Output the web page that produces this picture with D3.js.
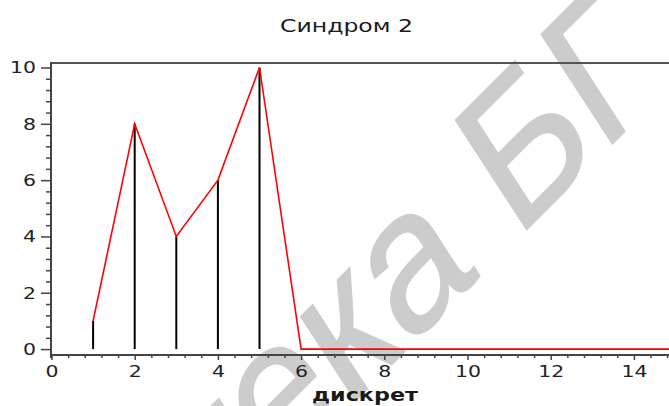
<!DOCTYPE html>
<html>
<head>
<meta charset="utf-8">
<script src="https://cdn.jsdelivr.net/npm/d3@7"></script>
<style>
  html, body { margin: 0; padding: 0; background: #fff; }
  svg { display: block; }
</style>
</head>
<body>
<svg id="chart" width="669" height="406"></svg>
<script>
// Discrete samples of the syndrome signal
const discrete = [1, 2, 3, 4, 5, 6, 7, 8, 9, 10, 11, 12, 13, 14, 15];
const values   = [1, 8, 4, 6, 10, 0, 0, 0, 0, 0, 0, 0, 0, 0, 0];
const xTicks = [0, 2, 4, 6, 8, 10, 12, 14];
const yTicks = [0, 2, 4, 6, 8, 10];
const titleText = "Синдром 2";
const xLabelText = "дискрет";
const watermarkText = "Библиотека БГУИР";

const svg = d3.select("#chart");
const W = 669, H = 406;

const x = d3.scaleLinear().domain([0, 15]).range([51.5, 51.5 + 15 * 41.6]);
const y = d3.scaleLinear().domain([-0.21, 10.16]).range([355, 63]);

// Slanted watermark behind the plot, anchored at the start of "БГУИР"
const wmFont = "Liberation Sans, Arial, sans-serif";
const wmSize = 185;
const wm = svg.append("g").attr("transform", "translate(516,240) rotate(-45) skewX(-12)");
const prefix = wm.append("text")
  .attr("font-family", wmFont)
  .attr("font-size", wmSize)
  .attr("visibility", "hidden")
  .style("white-space", "pre")
  .text("Библиотека ");
const offset = prefix.node().getComputedTextLength();
prefix.remove();
wm.append("text")
  .attr("x", -offset)
  .attr("font-family", wmFont)
  .attr("font-size", wmSize)
  .attr("fill", "#cccccc")
  .attr("stroke", "#cccccc")
  .attr("stroke-width", 2)
  .style("white-space", "pre")
  .text(watermarkText);

// Title
svg.append("text")
  .attr("x", 346.5).attr("y", 32)
  .attr("text-anchor", "middle")
  .attr("font-family", "DejaVu Sans, sans-serif")
  .attr("font-size", 18)
  .attr("fill", "#1a1a1a")
  .attr("textLength", 133)
  .attr("lengthAdjust", "spacingAndGlyphs")
  .text(titleText);

// Frame lines
const axisColor = "#444";
svg.append("line").attr("x1", 51).attr("x2", W).attr("y1", 63).attr("y2", 63)
  .attr("stroke", "#555").attr("stroke-width", 2);

// Minor ticks
const minorX = d3.range(0, 75).map(i => +(i * 0.4).toFixed(1)).filter(v => v <= 15 && Math.abs(v / 2 - Math.round(v / 2)) > 1e-6);
const minorY = d3.range(0, 26).map(i => +(i * 0.4).toFixed(1)).filter(v => v <= 10 && Math.abs(v / 2 - Math.round(v / 2)) > 1e-6);

const gyMinor = svg.append("g").attr("transform", "translate(51,0)")
  .call(d3.axisLeft(y).tickValues(minorY).tickSize(5).tickFormat(""));
const gxMinor = svg.append("g").attr("transform", "translate(0,355)")
  .call(d3.axisBottom(x).tickValues(minorX).tickSize(3).tickFormat(""));

const gy = svg.append("g").attr("transform", "translate(51,0)")
  .call(d3.axisLeft(y).tickValues(yTicks).tickSize(10).tickPadding(5).tickFormat(d3.format("d")));
const gx = svg.append("g").attr("transform", "translate(0,355)")
  .call(d3.axisBottom(x).tickValues(xTicks).tickSize(5).tickPadding(5).tickFormat(d3.format("d")));

[gyMinor, gxMinor, gy, gx].forEach(g => {
  g.select(".domain").remove();
  g.selectAll(".tick line").attr("stroke", axisColor).attr("stroke-width", 1.5);
});
gy.selectAll(".tick text")
  .attr("font-family", "DejaVu Sans, sans-serif").attr("font-size", 16.5)
  .attr("fill", "#222")
  .attr("x", -15 / 1.24)
  .attr("transform", "scale(1.24,1)");
gx.selectAll(".tick text")
  .attr("font-family", "DejaVu Sans, sans-serif").attr("font-size", 16.5)
  .attr("fill", "#222")
  .attr("transform", "scale(1.24,1)");

svg.append("line").attr("x1", 51).attr("x2", 51).attr("y1", 62).attr("y2", 358)
  .attr("stroke", axisColor).attr("stroke-width", 2);
svg.append("line").attr("x1", 50).attr("x2", W).attr("y1", 355).attr("y2", 355)
  .attr("stroke", axisColor).attr("stroke-width", 2);

// Stems
const pts = discrete.map((d, i) => ({ x: d, v: values[i] }));
svg.append("g").selectAll("line").data(pts.filter(p => p.v !== 0)).join("line")
  .attr("x1", p => x(p.x)).attr("x2", p => x(p.x))
  .attr("y1", y(0)).attr("y2", p => y(p.v))
  .attr("stroke", "#000").attr("stroke-width", 2);

// Envelope line
svg.append("path").datum(pts)
  .attr("d", d3.line().x(p => x(p.x)).y(p => y(p.v)))
  .attr("fill", "none").attr("stroke", "#ff0000").attr("stroke-width", 1.6);

// Axis label
svg.append("text")
  .attr("x", 365).attr("y", 401)
  .attr("text-anchor", "middle")
  .attr("font-family", "DejaVu Sans, sans-serif")
  .attr("font-size", 17).attr("font-weight", "bold")
  .attr("fill", "#1a1a1a")
  .attr("textLength", 106)
  .attr("lengthAdjust", "spacingAndGlyphs")
  .text(xLabelText);
</script>
</body>
</html>
